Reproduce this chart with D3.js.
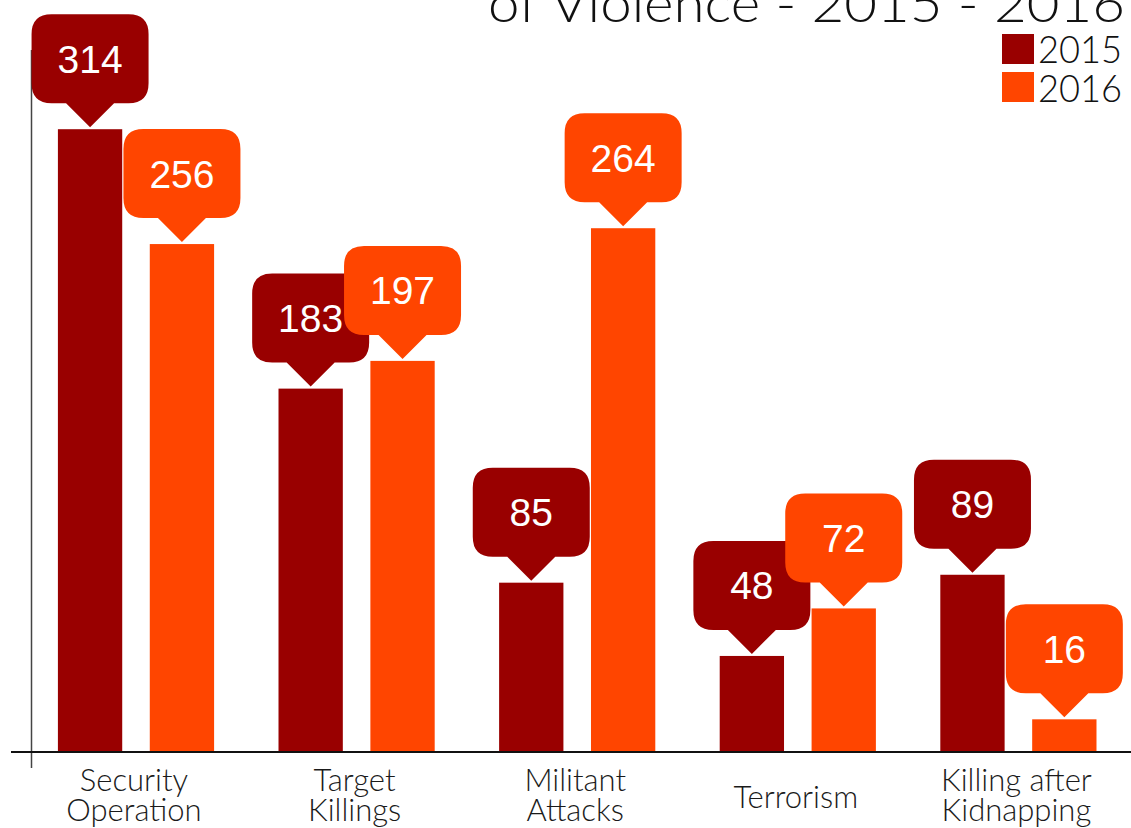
<!DOCTYPE html>
<html>
<head>
<meta charset="utf-8">
<script src="https://cdn.jsdelivr.net/npm/d3@7"></script>
<style>
  html, body { margin: 0; padding: 0; background: #fff; overflow: hidden; }
  svg { display: block; }
  .cat-label { font-family: Lato, "DejaVu Sans", sans-serif; font-weight: 300; fill: #1a1a1a; }
  .callout-text { font-family: "Liberation Sans", Arial, sans-serif; fill: #fff; }
</style>
</head>
<body>
<svg id="chart" width="1131" height="828"></svg>
<script>
const categories = [
  ['Security', 'Operation'],
  ['Target', 'Killings'],
  ['Militant', 'Attacks'],
  ['Terrorism'],
  ['Killing after', 'Kidnapping']
];
const years = ['2015', '2016'];
const values2015 = [314, 183, 85, 48, 89];
const values2016 = [256, 197, 264, 72, 16];
const colors = { '2015': '#990000', '2016': '#ff4500' };

const W = 1131, H = 828;
const svg = d3.select('#chart');

const rows = categories.map((c, i) => ({
  key: c.join(' '),
  lines: c,
  vals: [
    { year: '2015', value: values2015[i] },
    { year: '2016', value: values2016[i] }
  ]
}));

const x0 = d3.scaleBand()
  .domain(rows.map(d => d.key))
  .range([25.7, 1128.7]);

const x1 = d3.scaleBand()
  .domain(years)
  .range([x0.bandwidth() * 0.146, x0.bandwidth() * 0.854])
  .paddingInner(0.3);

const y = d3.scaleLinear()
  .domain([0, 354])
  .range([751, 50]);

// title (its first line sits above the frame)
svg.append('text')
  .attr('x', 1125)
  .attr('y', 22)
  .attr('text-anchor', 'end')
  .attr('textLength', 637)
  .attr('lengthAdjust', 'spacingAndGlyphs')
  .style('font-family', 'Lato, "DejaVu Sans", sans-serif')
  .style('font-weight', 300)
  .style('font-size', '52px')
  .style('fill', '#111')
  .text('of Violence - 2015 - 2016');

// legend
const legend = svg.append('g');
years.forEach((yr, i) => {
  legend.append('rect')
    .attr('x', 1002).attr('y', 34 + i * 38)
    .attr('width', 32).attr('height', 30)
    .attr('fill', colors[yr]);
  legend.append('text')
    .attr('x', 1038).attr('y', 63 + i * 39)
    .attr('textLength', 84)
    .attr('lengthAdjust', 'spacingAndGlyphs')
    .style('font-family', 'Lato, "DejaVu Sans", sans-serif')
    .style('font-weight', 300)
    .style('font-size', '38px')
    .style('fill', '#111')
    .text(yr);
});

// axes
svg.append('line')
  .attr('x1', 31.5).attr('x2', 31.5)
  .attr('y1', 50).attr('y2', 768)
  .attr('stroke', '#444').attr('stroke-width', 1.5);

const xAxis = d3.axisBottom(x0).tickSize(0).tickFormat('');
svg.append('g')
  .attr('transform', `translate(0,${y(0)})`)
  .call(xAxis)
  .call(g => g.select('.domain').remove());

svg.append('line')
  .attr('x1', 11).attr('x2', W)
  .attr('y1', 752).attr('y2', 752)
  .attr('stroke', '#111').attr('stroke-width', 2);

// bars
const groups = svg.append('g')
  .selectAll('g')
  .data(rows)
  .join('g')
  .attr('transform', d => `translate(${x0(d.key)},0)`);

groups.selectAll('rect')
  .data(d => d.vals)
  .join('rect')
  .attr('x', d => x1(d.year))
  .attr('width', x1.bandwidth())
  .attr('y', d => y(d.value))
  .attr('height', d => y(0) - y(d.value))
  .attr('fill', d => colors[d.year]);

// callouts
const cw = 117, ch = 89, cr = 20, ph = 24, pw = 24;
function calloutPath(cx, tip) {
  const b = tip - ph;      // bottom of rounded box
  const t = b - ch;
  const l = cx - cw / 2, r = cx + cw / 2;
  return `M${cx},${tip} L${cx - pw},${b} L${l + cr},${b} Q${l},${b} ${l},${b - cr}` +
    ` L${l},${t + cr} Q${l},${t} ${l + cr},${t} L${r - cr},${t} Q${r},${t} ${r},${t + cr}` +
    ` L${r},${b - cr} Q${r},${b} ${r - cr},${b} L${cx + pw},${b} Z`;
}

rows.forEach(row => {
  row.vals.forEach(v => {
    const cx = x0(row.key) + x1(v.year) + x1.bandwidth() / 2;
    const tip = y(v.value) - 2;
    svg.append('path')
      .attr('d', calloutPath(cx, tip))
      .attr('fill', colors[v.year]);
    svg.append('text')
      .attr('class', 'callout-text')
      .attr('x', cx)
      .attr('y', tip - ph - ch / 2)
      .attr('dy', '0.36em')
      .attr('text-anchor', 'middle')
      .style('font-size', '39px')
      .text(v.value);
  });
});

// category labels
rows.forEach(row => {
  const cx = x0(row.key) + x0.bandwidth() / 2 - 2;
  const t = svg.append('text')
    .attr('class', 'cat-label')
    .attr('text-anchor', 'middle')
    .style('font-size', '31px');
  if (row.lines.length === 1) {
    t.append('tspan').attr('x', cx).attr('y', 808).text(row.lines[0]);
  } else {
    row.lines.forEach((ln, i) => {
      t.append('tspan').attr('x', cx).attr('y', 791 + i * 30).text(ln);
    });
  }
});
</script>
</body>
</html>
